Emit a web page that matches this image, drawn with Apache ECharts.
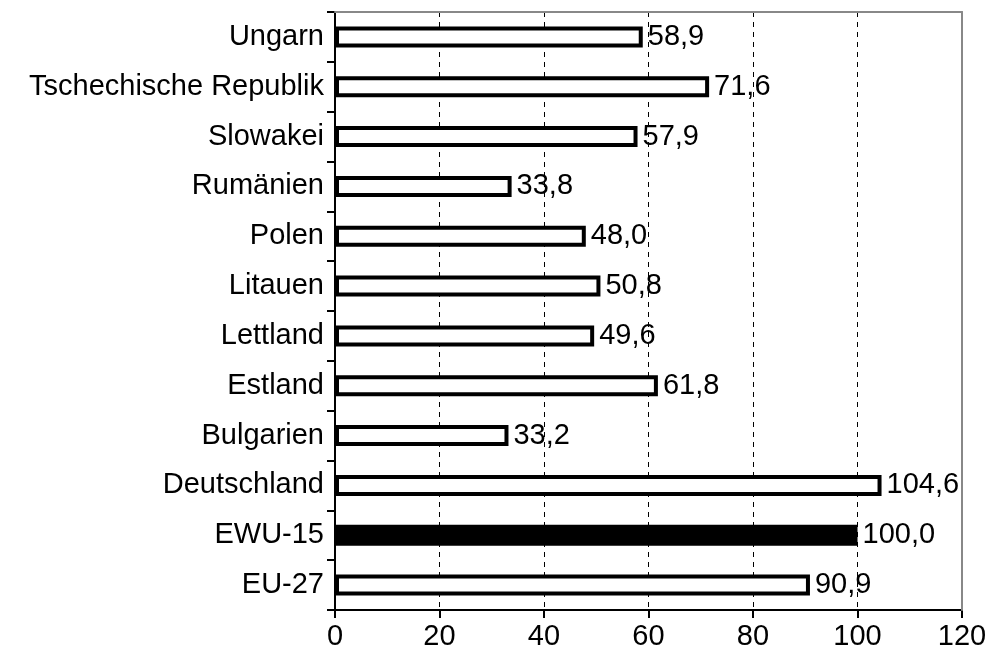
<!DOCTYPE html>
<html><head><meta charset="utf-8">
<script src="https://cdn.jsdelivr.net/npm/echarts@6/dist/echarts.min.js"></script>
<style>html,body{margin:0;padding:0;background:#fff}#c{width:987px;height:664px}</style>
</head><body><div id="c"></div>
<script>
var categories = ["Ungarn","Tschechische Republik","Slowakei","Rumänien","Polen","Litauen","Lettland","Estland","Bulgarien","Deutschland","EWU-15","EU-27"];
var values = [58.9,71.6,57.9,33.8,48.0,50.8,49.6,61.8,33.2,104.6,100.0,90.9];
var highlight = "EWU-15";
var xTicks = [0,20,40,60,80,100,120];

var font = "'Liberation Sans', Arial, sans-serif";
var chart = echarts.init(document.getElementById('c'), null, {renderer:'canvas'});
var data = categories.map(function(c,i){
  return {value: values[i], itemStyle: c===highlight ? {color:'#000', borderColor:'#000'} : {}};
});
chart.setOption({
  animation:false,
  grid:{left:335,right:25,top:12,bottom:54,show:false,containLabel:false,outerBoundsMode:'none'},
  xAxis:[{type:'value',min:xTicks[0],max:xTicks[xTicks.length-1],interval:20,
    axisLine:{show:true,onZero:false,lineStyle:{color:'#000',width:2}},
    axisTick:{show:true,length:8,lineStyle:{color:'#000',width:2}},
    axisLabel:{color:'#000',fontSize:29,fontFamily:font,margin:12},
    splitLine:{show:true,lineStyle:{color:'#000',width:1,type:[5,5]}}},
   {type:'value',position:'top',min:0,max:120,interval:20,z:5,
    axisLine:{show:true,onZero:false,lineStyle:{color:'#888',width:2}},
    axisTick:{show:false},axisLabel:{show:false},splitLine:{show:false}}],
  yAxis:[{type:'category',data:categories,inverse:true,
    axisLine:{show:true,onZero:false,lineStyle:{color:'#000',width:2}},
    axisTick:{show:true,length:8,lineStyle:{color:'#000',width:2}},
    axisLabel:{color:'#000',fontSize:29,fontFamily:font,margin:11},
    splitLine:{show:false}},
   {type:'category',data:categories,inverse:true,position:'right',z:5,
    axisLine:{show:true,onZero:false,lineStyle:{color:'#888',width:2}},
    axisTick:{show:false},axisLabel:{show:false}}],
  series:[{type:'bar',data:data,barWidth:21,
    itemStyle:{color:'#fff',borderColor:'#000',borderWidth:4},
    label:{show:true,position:'right',distance:5,color:'#000',fontSize:29,fontFamily:font,
      formatter:function(p){return p.value.toFixed(1).replace('.',',');}}}]
});
</script></body></html>
